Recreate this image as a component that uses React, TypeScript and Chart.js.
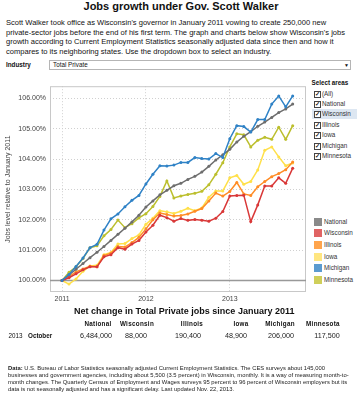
import React, { useEffect, useRef } from "react";
import { Chart, registerables } from "chart.js";

Chart.register(...registerables);

const months: string[] = [
  "2011-01","2011-02","2011-03","2011-04","2011-05","2011-06","2011-07","2011-08","2011-09","2011-10","2011-11","2011-12",
  "2012-01","2012-02","2012-03","2012-04","2012-05","2012-06","2012-07","2012-08","2012-09","2012-10","2012-11","2012-12",
  "2013-01","2013-02","2013-03","2013-04","2013-05","2013-06","2013-07","2013-08","2013-09","2013-10",
];

const national = [100, 100.18, 100.37, 100.56, 100.75, 100.93, 101.12, 101.32, 101.52, 101.72, 101.93, 102.15, 102.42, 102.62, 102.82, 102.97, 103.12, 103.2, 103.33, 103.43, 103.57, 103.76, 103.97, 104.14, 104.32, 104.56, 104.75, 104.9, 105.08, 105.22, 105.37, 105.53, 105.65, 105.81];
const wisconsin = [100, 100.09, 100.22, 100.35, 100.45, 100.45, 100.78, 100.85, 101.08, 101.03, 101.2, 101.32, 101.6, 101.82, 102.15, 102.07, 101.95, 102.04, 101.98, 102.01, 101.98, 101.95, 102.05, 102.27, 102.78, 102.8, 102.81, 101.94, 102.49, 103.11, 103.11, 103.38, 103.2, 103.7];
const illinois = [100, 100.13, 100.28, 100.38, 100.47, 100.45, 100.82, 100.9, 101.12, 101.1, 101.25, 101.42, 101.7, 102.0, 102.22, 102.17, 102.12, 102.14, 102.19, 102.28, 102.37, 102.62, 102.88, 102.78, 102.93, 103.23, 102.85, 102.8, 103.09, 103.26, 103.42, 103.52, 103.65, 103.9];
const iowa = [100, 99.88, 100.05, 100.3, 100.48, 100.5, 100.85, 100.92, 101.2, 101.22, 101.38, 101.5, 101.85, 102.05, 102.3, 102.26, 102.21, 102.28, 102.38, 102.3, 102.39, 102.74, 102.95, 102.95, 103.38, 103.46, 103.17, 103.26, 103.64, 104.29, 104.4, 104.07, 103.78, 103.87];
const michigan = [100, 100.2, 100.46, 100.74, 101.08, 101.19, 101.66, 102.03, 102.19, 102.43, 102.64, 102.8, 103.18, 103.5, 103.78, 103.77, 103.8, 103.89, 103.89, 104.05, 104.02, 104.0, 104.18, 104.05, 104.67, 105.1, 105.07, 104.89, 105.3, 105.3, 105.81, 106.08, 105.72, 106.08];
const minnesota = [100, 100.27, 100.45, 100.72, 101.08, 101.14, 101.47, 101.68, 101.99, 101.74, 101.87, 102.06, 102.2, 102.44, 102.77, 103.28, 102.72, 102.78, 102.83, 102.87, 102.94, 103.15, 103.5, 103.88, 104.4, 104.83, 104.8, 104.4, 104.62, 104.72, 104.65, 105.05, 104.65, 105.1];

const yTicks = [100, 101, 102, 103, 104, 105, 106];
const xTickYears = ["2011", "2012", "2013"];

const areaNames = ["National", "Wisconsin", "Illinois", "Iowa", "Michigan", "Minnesota"];
const netChange = ["6,484,000", "88,000", "190,400", "48,900", "206,000", "117,500"];

const FONT = "Arial, 'Liberation Sans', Helvetica, sans-serif";

const lineColors: Record<string, string> = {
  National: "#6e6e6e",
  Wisconsin: "#d93838",
  Illinois: "#ff8c26",
  Iowa: "#ffe04a",
  Michigan: "#2f82c6",
  Minnesota: "#bcbf2e",
};
const legendColors: Record<string, string> = {
  National: "#8a8a8a",
  Wisconsin: "#e06464",
  Illinois: "#ffa54d",
  Iowa: "#ffe680",
  Michigan: "#5b9bd0",
  Minnesota: "#cfcf5a",
};
const drawOrder: Record<string, number> = {
  Michigan: 0,
  Wisconsin: 1,
  National: 2,
  Illinois: 3,
  Iowa: 4,
  Minnesota: 5,
};

const seriesByName: Record<string, number[]> = {
  National: national,
  Wisconsin: wisconsin,
  Illinois: illinois,
  Iowa: iowa,
  Michigan: michigan,
  Minnesota: minnesota,
};

const framePlugin = {
  id: "frame",
  beforeDatasetsDraw(chart: any) {
    const { ctx, chartArea, scales } = chart;
    ctx.save();
    ctx.strokeStyle = "#c8c8c8";
    ctx.lineWidth = 1;
    ctx.strokeRect(chartArea.left + 0.5, chartArea.top + 0.5, chartArea.right - chartArea.left - 1, chartArea.bottom - chartArea.top - 1);
    const y = Math.round(scales.y.getPixelForValue(100)) + 0.5;
    ctx.strokeStyle = "#999999";
    ctx.lineWidth = 1.5;
    ctx.beginPath();
    ctx.moveTo(chartArea.left, y);
    ctx.lineTo(chartArea.right, y);
    ctx.stroke();
    ctx.restore();
  },
};

function LineChart() {
  const ref = useRef<HTMLCanvasElement | null>(null);
  useEffect(() => {
    if (!ref.current) return;
    const datasets = areaNames.map((name) => ({
      label: name,
      data: seriesByName[name].map((v, i) => ({ x: months.indexOf(months[i]), y: v })),
      borderColor: lineColors[name],
      backgroundColor: lineColors[name],
      borderWidth: 1.5,
      pointRadius: 1.5,
      pointBorderWidth: 0,
      pointHoverRadius: 1.5,
      tension: 0,
      order: drawOrder[name],
    }));
    const chart = new Chart(ref.current, {
      type: "line",
      data: { datasets },
      plugins: [framePlugin],
      options: {
        animation: false,
        responsive: false,
        maintainAspectRatio: false,
        events: [],
        layout: { padding: { top: 5, right: 2, bottom: 0, left: 0 } },
        plugins: { legend: { display: false }, tooltip: { enabled: false } },
        scales: {
          x: {
            type: "linear",
            min: -1.72,
            max: 34.9,
            afterBuildTicks: (scale: any) => {
              scale.ticks = xTickYears.map((_, k) => ({ value: months.indexOf(xTickYears[k] + "-01") }));
            },
            afterFit: (scale: any) => {
              scale.height = 16;
            },
            ticks: {
              color: "#444",
              font: { family: FONT, size: 7 },
              padding: 3,
              maxRotation: 0,
              autoSkip: false,
              callback: (value: any) => months[value] ? months[value].slice(0, 4) : "",
            },
            grid: { color: "#d0d0d0", lineWidth: 1, drawTicks: false },
            border: { display: false, dash: [1, 2] },
          },
          y: {
            type: "linear",
            min: 99.62,
            max: 106.4,
            afterBuildTicks: (scale: any) => {
              scale.ticks = yTicks.map((v) => ({ value: v }));
            },
            afterFit: (scale: any) => {
              scale.width = 50;
            },
            title: {
              display: true,
              text: "Jobs level relative to January 2011",
              color: "#444",
              font: { family: FONT, size: 7 },
              padding: { top: 4, bottom: 0 },
            },
            ticks: {
              color: "#444",
              font: { family: FONT, size: 7 },
              padding: 4,
              callback: (value: any) => Number(value).toFixed(2) + "%",
            },
            grid: { color: "#d0d0d0", lineWidth: 1, drawTicks: false },
            border: { display: false, dash: [1, 2] },
          },
        },
      },
    });
    return () => chart.destroy();
  }, []);
  return (
    <canvas
      ref={ref}
      width={308}
      height={230}
      style={{ position: "absolute", left: 0, top: 78, width: 308, height: 230 }}
    />
  );
}

function Txt(props: { x: number; y: number; size: number; bold?: boolean; children: any; style?: any }) {
  const lh = props.size * 1.25;
  return (
    <div
      style={{
        position: "absolute",
        left: props.x,
        top: props.y - lh / 2,
        fontSize: props.size,
        lineHeight: lh + "px",
        fontWeight: props.bold ? "bold" : "normal",
        whiteSpace: "nowrap",
        fontFamily: FONT,
        color: "#111",
        ...(props.style || {}),
      }}
    >
      {props.children}
    </div>
  );
}

function CTxt(props: { cx: number; y: number; size: number; bold?: boolean; children: any; style?: any }) {
  const lh = props.size * 1.25;
  return (
    <div
      style={{
        position: "absolute",
        left: props.cx - 100,
        width: 200,
        textAlign: "center",
        top: props.y - lh / 2,
        fontSize: props.size,
        lineHeight: lh + "px",
        fontWeight: props.bold ? "bold" : "normal",
        whiteSpace: "nowrap",
        fontFamily: FONT,
        color: "#111",
        ...(props.style || {}),
      }}
    >
      {props.children}
    </div>
  );
}

const introLines = [
  "Scott Walker took office as Wisconsin's governor in January 2011 vowing to create 250,000 new",
  "private-sector jobs before the end of his first term. The graph and charts below show Wisconsin's jobs",
  "growth according to Current Employment Statistics seasonally adjusted data since then and how it",
  "compares to its neighboring states. Use the dropdown box to select an industry.",
];

const footLines = [
  "U.S. Bureau of Labor Statistics seasonally adjusted Current Employment Statistics. The CES surveys about 145,000",
  "businesses and government agencies, including about 5,500 (3.5 percent) in Wisconsin, monthly. It is a way of measuring month-to-",
  "month changes. The Quarterly Census of Employment and Wages surveys 95 percent to 96 percent of Wisconsin employers but its",
  "data is not seasonally adjusted and has a significant delay. Last updated Nov. 22, 2013.",
];

const selectItems = ["(All)", ...areaNames];
const headerCenters = [98, 137, 192, 241, 280, 323];
const valueCenters = [96, 136, 188, 236, 281, 327];

function Check() {
  return (
    <span
      style={{
        position: "absolute",
        left: 0,
        top: -3,
        width: 5,
        height: 5,
        border: "1px solid #444",
        background: "#fff",
        fontSize: 5.5,
        lineHeight: "5px",
        textAlign: "center",
        color: "#111",
        fontWeight: "bold",
        overflow: "hidden",
      }}
    >
      ✓
    </span>
  );
}

export default function App() {
  return (
    <div style={{ position: "absolute", left: 0, top: 0, width: 363, height: 400, background: "#fff", overflow: "hidden", fontFamily: FONT }}>
      <CTxt cx={181} y={7} size={11} bold>Jobs growth under Gov. Scott Walker</CTxt>
      {introLines.map((l, i) => (
        <Txt key={i} x={6} y={23 + i * 9.6} size={7.55} style={{ color: "#111" }}>{l}</Txt>
      ))}
      <Txt x={6} y={65} size={6.3} bold>Industry</Txt>
      <div style={{ position: "absolute", left: 49, top: 60, width: 302, height: 10, border: "1px solid #b5b5b5", background: "#fff", boxSizing: "border-box" }} />
      <Txt x={53} y={65.2} size={6.3}>Total Private</Txt>
      <Txt x={344} y={65.5} size={5}>▼</Txt>

      <LineChart />

      <Txt x={311.5} y={82.7} size={6.3} bold>Select areas</Txt>
      <div style={{ position: "absolute", left: 312, top: 109.3, width: 45, height: 10, background: "#dde7f2" }} />
      {selectItems.map((name, i) => (
        <div key={name} style={{ position: "absolute", left: 313.5, top: 93.5 + i * 10.45, width: 1, height: 1 }}>
          <Check />
          <Txt x={8.5} y={0} size={6.3} style={{ color: "#333" }}>{name}</Txt>
        </div>
      ))}

      {areaNames.map((name, i) => (
        <div key={name}>
          <div style={{ position: "absolute", left: 313.5, top: 217.7 + i * 11.65, width: 8, height: 8, background: legendColors[name] }} />
          <Txt x={324} y={221.7 + i * 11.65} size={6.3} style={{ color: "#333" }}>{name}</Txt>
        </div>
      ))}

      <CTxt cx={174} y={312} size={9} bold>Net change in Total Private jobs since January 2011</CTxt>
      {areaNames.map((name, i) => (
        <CTxt key={name} cx={headerCenters[i]} y={323.5} size={6.3} bold style={{ letterSpacing: 0.3 }}>{name}</CTxt>
      ))}
      <Txt x={8.5} y={335.8} size={6.3}>2013</Txt>
      <Txt x={28} y={335.8} size={6.3} bold>October</Txt>
      {netChange.map((v, i) => (
        <CTxt key={i} cx={valueCenters[i]} y={335.8} size={7.2} style={{ color: "#222" }}>{v}</CTxt>
      ))}

      {footLines.map((l, i) => (
        <Txt key={i} x={8} y={368.3 + i * 7.2} size={5.85} style={{ color: "#222" }}>
          {i === 0 ? <b>Data: </b> : null}
          {l}
        </Txt>
      ))}
    </div>
  );
}
